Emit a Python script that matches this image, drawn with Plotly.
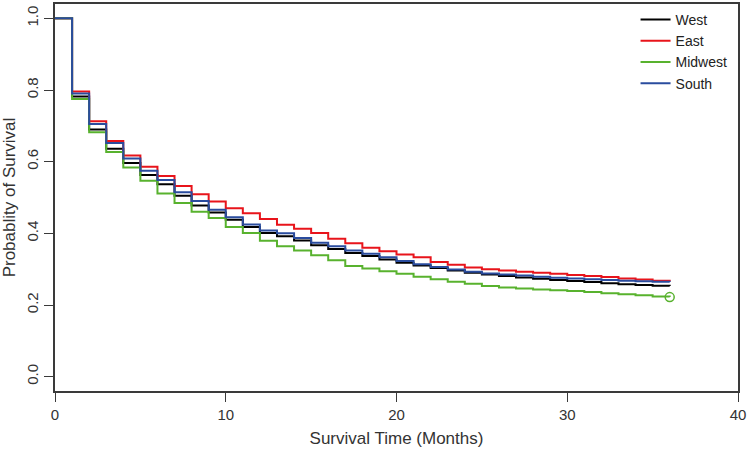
import plotly.graph_objects as go

# survival probability at the start of each month (0..36), Kaplan-Meier style steps
months = list(range(0, 37))

west = [1.0, 0.782, 0.690, 0.636, 0.596, 0.563, 0.537, 0.505, 0.478, 0.458,
        0.438, 0.418, 0.401, 0.392, 0.380, 0.367, 0.356, 0.345, 0.337, 0.327,
        0.318, 0.310, 0.303, 0.296, 0.290, 0.285, 0.281, 0.277, 0.273, 0.270,
        0.267, 0.264, 0.261, 0.258, 0.256, 0.254, 0.253]
east = [1.0, 0.796, 0.713, 0.658, 0.617, 0.586, 0.560, 0.532, 0.509, 0.489,
        0.470, 0.456, 0.440, 0.424, 0.413, 0.401, 0.385, 0.372, 0.360, 0.350,
        0.341, 0.333, 0.320, 0.312, 0.305, 0.300, 0.296, 0.293, 0.290, 0.287,
        0.284, 0.281, 0.278, 0.274, 0.271, 0.268, 0.266]
midwest = [1.0, 0.775, 0.682, 0.627, 0.584, 0.547, 0.511, 0.485, 0.460, 0.443,
           0.418, 0.401, 0.379, 0.364, 0.352, 0.339, 0.325, 0.309, 0.302, 0.294,
           0.287, 0.279, 0.272, 0.265, 0.259, 0.253, 0.249, 0.246, 0.243, 0.241,
           0.239, 0.236, 0.233, 0.230, 0.227, 0.224, 0.222]
south = [1.0, 0.790, 0.705, 0.652, 0.609, 0.575, 0.549, 0.515, 0.490, 0.466,
         0.445, 0.425, 0.408, 0.400, 0.387, 0.374, 0.364, 0.352, 0.343, 0.333,
         0.323, 0.314, 0.306, 0.299, 0.293, 0.288, 0.285, 0.282, 0.279, 0.276,
         0.274, 0.272, 0.270, 0.268, 0.266, 0.265, 0.264]

regions = ['West', 'East', 'Midwest', 'South']
series = [west, east, midwest, south]
colors = ['#000000', '#e8141b', '#58b22e', '#2a4c9e']

fig = go.Figure()
for name, vals, col in zip(regions, series, colors):
    fig.add_trace(go.Scatter(
        x=months, y=vals, mode='lines', name=name,
        line=dict(color=col, width=2, shape='hv')
    ))

# censor mark at the end of the Midwest curve
fig.add_trace(go.Scatter(
    x=[months[-1]], y=[midwest[-1]], mode='markers', showlegend=False,
    marker=dict(symbol='circle-open', size=9, color=colors[2], line=dict(width=1.5))
))

axis_style = dict(
    showgrid=False, zeroline=False, showline=True, mirror=True,
    linecolor='#3a3a3a', linewidth=1.5, automargin=False,
    ticks='outside', ticklen=9, tickcolor='#3a3a3a', tickwidth=1.2,
    tickfont=dict(size=15, color='#333333'),
)

fig.update_layout(
    width=750, height=451,
    margin=dict(l=55, r=12, t=4, b=60),
    paper_bgcolor='white', plot_bgcolor='white',
    font=dict(family='Liberation Sans, Arial, sans-serif', color='#333333'),
    xaxis=dict(range=[0, 40], tickvals=[0, 10, 20, 30, 40],
               title=dict(text='Survival Time (Months)', font=dict(size=17), standoff=10),
               **axis_style),
    yaxis=dict(range=[-0.04, 1.04], tickvals=[0, 0.2, 0.4, 0.6, 0.8, 1.0],
               tickformat='.1f', tickangle=-90,
               title=dict(text='Probablity of Survival', font=dict(size=17), standoff=4),
               **axis_style),
    legend=dict(x=0.85, y=1.0, xanchor='left', yanchor='top',
                bgcolor='rgba(0,0,0,0)', font=dict(size=14, color='#222222'),
                tracegroupgap=0, itemwidth=30),
)

# drop the page's default body margin so the figure sits at the window's corner
fig.write_html("out.html", config={'displayModeBar': False},
               post_script="document.body.style.margin = '0';")
